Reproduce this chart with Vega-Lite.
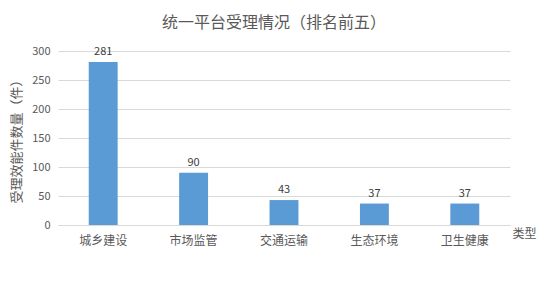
{
  "$schema": "https://vega.github.io/schema/vega-lite/v6.json",
  "width": 452,
  "height": 174,
  "autosize": {"type": "none"},
  "padding": {"left": 58, "top": 51, "right": 39, "bottom": 56},
  "background": "white",
  "title": {
    "text": "统一平台受理情况（排名前五）",
    "font": "Noto Sans CJK SC",
    "fontSize": 16,
    "fontWeight": "normal",
    "color": "#595959",
    "anchor": "middle",
    "dx": -10,
    "offset": 14
  },
  "config": {
    "view": {"stroke": null},
    "font": "Noto Sans CJK SC"
  },
  "data": {
    "values": [
      {"type": "城乡建设", "count": 281},
      {"type": "市场监管", "count": 90},
      {"type": "交通运输", "count": 43},
      {"type": "生态环境", "count": 37},
      {"type": "卫生健康", "count": 37}
    ]
  },
  "encoding": {
    "x": {
      "field": "type",
      "type": "nominal",
      "sort": null,
      "scale": {"paddingInner": 0.68, "paddingOuter": 0.34},
      "axis": {
        "title": "类型",
        "titleFont": "Noto Sans CJK SC",
        "titleFontSize": 12,
        "titleFontWeight": "normal",
        "titleColor": "#595959",
        "titleX": 454,
        "titleY": 8,
        "titleAlign": "left",
        "titleBaseline": "middle",
        "labelAngle": 0,
        "labelFontSize": 12,
        "labelColor": "#595959",
        "labelPadding": 10,
        "ticks": false,
        "domainColor": "#d9d9d9",
        "domainWidth": 1
      }
    },
    "y": {
      "field": "count",
      "type": "quantitative",
      "scale": {"domain": [0, 300]},
      "axis": {
        "title": "受理效能件数量（件）",
        "titleFontSize": 13,
        "titleFontWeight": "normal",
        "titleColor": "#595959",
        "titlePadding": 8,
        "values": [0, 50, 100, 150, 200, 250, 300],
        "labelFontSize": 11,
        "labelColor": "#595959",
        "labelPadding": 8,
        "ticks": false,
        "domain": false,
        "gridColor": "#d9d9d9"
      }
    }
  },
  "layer": [
    {"mark": {"type": "bar", "color": "#5b9bd5"}},
    {
      "mark": {"type": "text", "baseline": "bottom", "dy": -5, "fontSize": 11, "color": "#404040"},
      "encoding": {"text": {"field": "count", "type": "quantitative"}}
    }
  ]
}
